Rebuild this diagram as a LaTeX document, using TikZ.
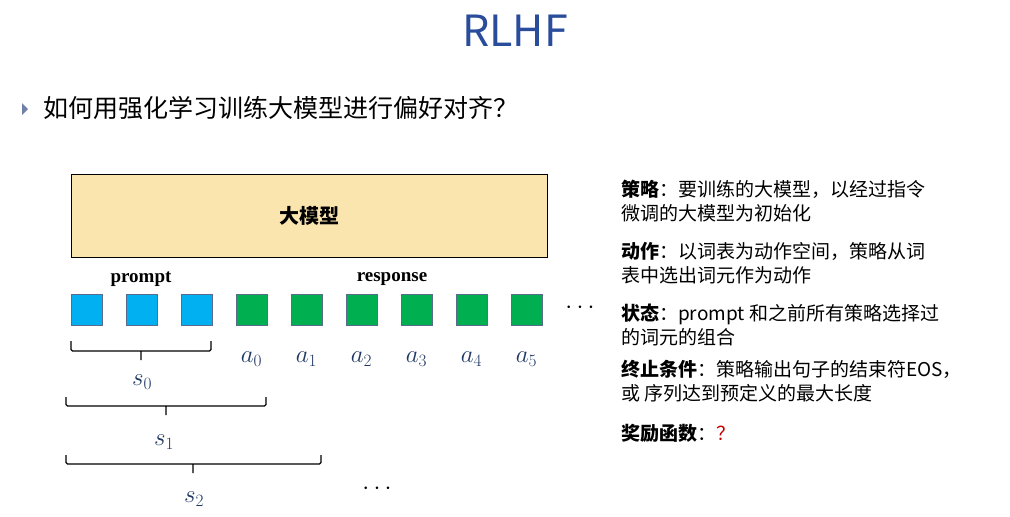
\documentclass[tikz,border=0pt]{standalone}
\usepackage{fontspec}
\setmainfont{Noto Sans CJK SC}
\newfontfamily\tnr{Liberation Serif}
\usetikzlibrary{positioning}
\definecolor{titleblue}{HTML}{2A4D9B}
\definecolor{llmfill}{HTML}{FBE5AF}
\definecolor{tokblue}{HTML}{00B0F0}
\definecolor{tokgreen}{HTML}{00B050}
\definecolor{tokstroke}{HTML}{5B6B8C}
\definecolor{mathnavy}{HTML}{1F3864}
\definecolor{bulletgrey}{HTML}{7080A8}
\definecolor{qred}{HTML}{C00000}

\begin{document}
\begin{tikzpicture}[x=1pt, y=-1pt,
    every node/.style={inner sep=0pt},
    token/.style={draw=tokstroke, line width=0.8pt, minimum size=31pt},
    ptok/.style={token, fill=tokblue},
    rtok/.style={token, fill=tokgreen},
    lbl/.style={font=\fontsize{27}{27}\selectfont, text=mathnavy},
    brace/.style={line width=1.1pt, rounded corners=1.5pt},
    note/.style={anchor=west, align=left, font=\fontsize{19}{24}\selectfont}
]
\useasboundingbox (0,0) rectangle (1010,517);

% Title and question
\node[font=\fontsize{43}{43}\selectfont, text=titleblue] (title) at (515,31) {RLHF};
\fill[bulletgrey] (22,103) -- (28,109) -- (22,115) -- cycle;
\node[anchor=west, font=\fontsize{25}{25}\selectfont] (question) at (43,108) {如何用强化学习训练大模型进行偏好对齐？};

% Model box
\node[draw, fill=llmfill, line width=1pt, minimum width=476pt, minimum height=83pt,
      font=\fontsize{20}{20}\selectfont] (llm) at (309,215.5) {\textbf{大模型}};

\node[font=\tnr\bfseries\fontsize{19}{19}\selectfont] (prompt) at (141,279) {prompt};
\node[font=\tnr\bfseries\fontsize{19}{19}\selectfont] (response) at (392,279) {response};

% Tokens
\foreach \i in {1,...,3}
    \node[ptok] (t\i) at ({86.5+55*(\i-1)},309.5) {};
\foreach \i in {4,...,9}
    \node[rtok] (t\i) at ({86.5+55*(\i-1)},309.5) {};
\node[font=\fontsize{24}{24}\selectfont] (tdots) at (580,308) {$\cdots$};

% Actions
\foreach \i [evaluate=\i as \k using int(\i-4)] in {4,...,9}
    \node[lbl] (a\k) at ({86.5+55*(\i-1)},359) {$a_{\k}$};

% States
\draw[brace] (71,341) -- (71,351) -- (211,351) -- (211,341) (141,351) -- (141,360);
\node[lbl] (s0) at (142,382) {$s_0$};
\draw[brace] (66,397) -- (66,406) -- (266,406) -- (266,397) (166,406) -- (166,415);
\node[lbl] (s1) at (164,442) {$s_1$};
\draw[brace] (66,455) -- (66,464) -- (321,464) -- (321,455) (193,464) -- (193,473);
\node[lbl] (s2) at (194,499) {$s_2$};
\node[font=\fontsize{24}{24}\selectfont] (sdots) at (377,489) {$\cdots$};

% Notes
\node[note] (policy) at (621,201) {\textbf{策略}：要训练的大模型，以经过指令\\微调的大模型为初始化};
\node[note] (action) at (621,263) {\textbf{动作}：以词表为动作空间，策略从词\\表中选出词元作为动作};
\node[note] (state) at (621,325) {\textbf{状态}：prompt 和之前所有策略选择过\\的词元的组合};
\node[note] (stop) at (621,381.5) {\textbf{终止条件}：策略输出句子的结束符EOS，\\或 序列达到预定义的最大长度};
\node[note] (reward) at (621,433) {\textbf{奖励函数}：\textcolor{qred}{？}};

\end{tikzpicture}
\end{document}
